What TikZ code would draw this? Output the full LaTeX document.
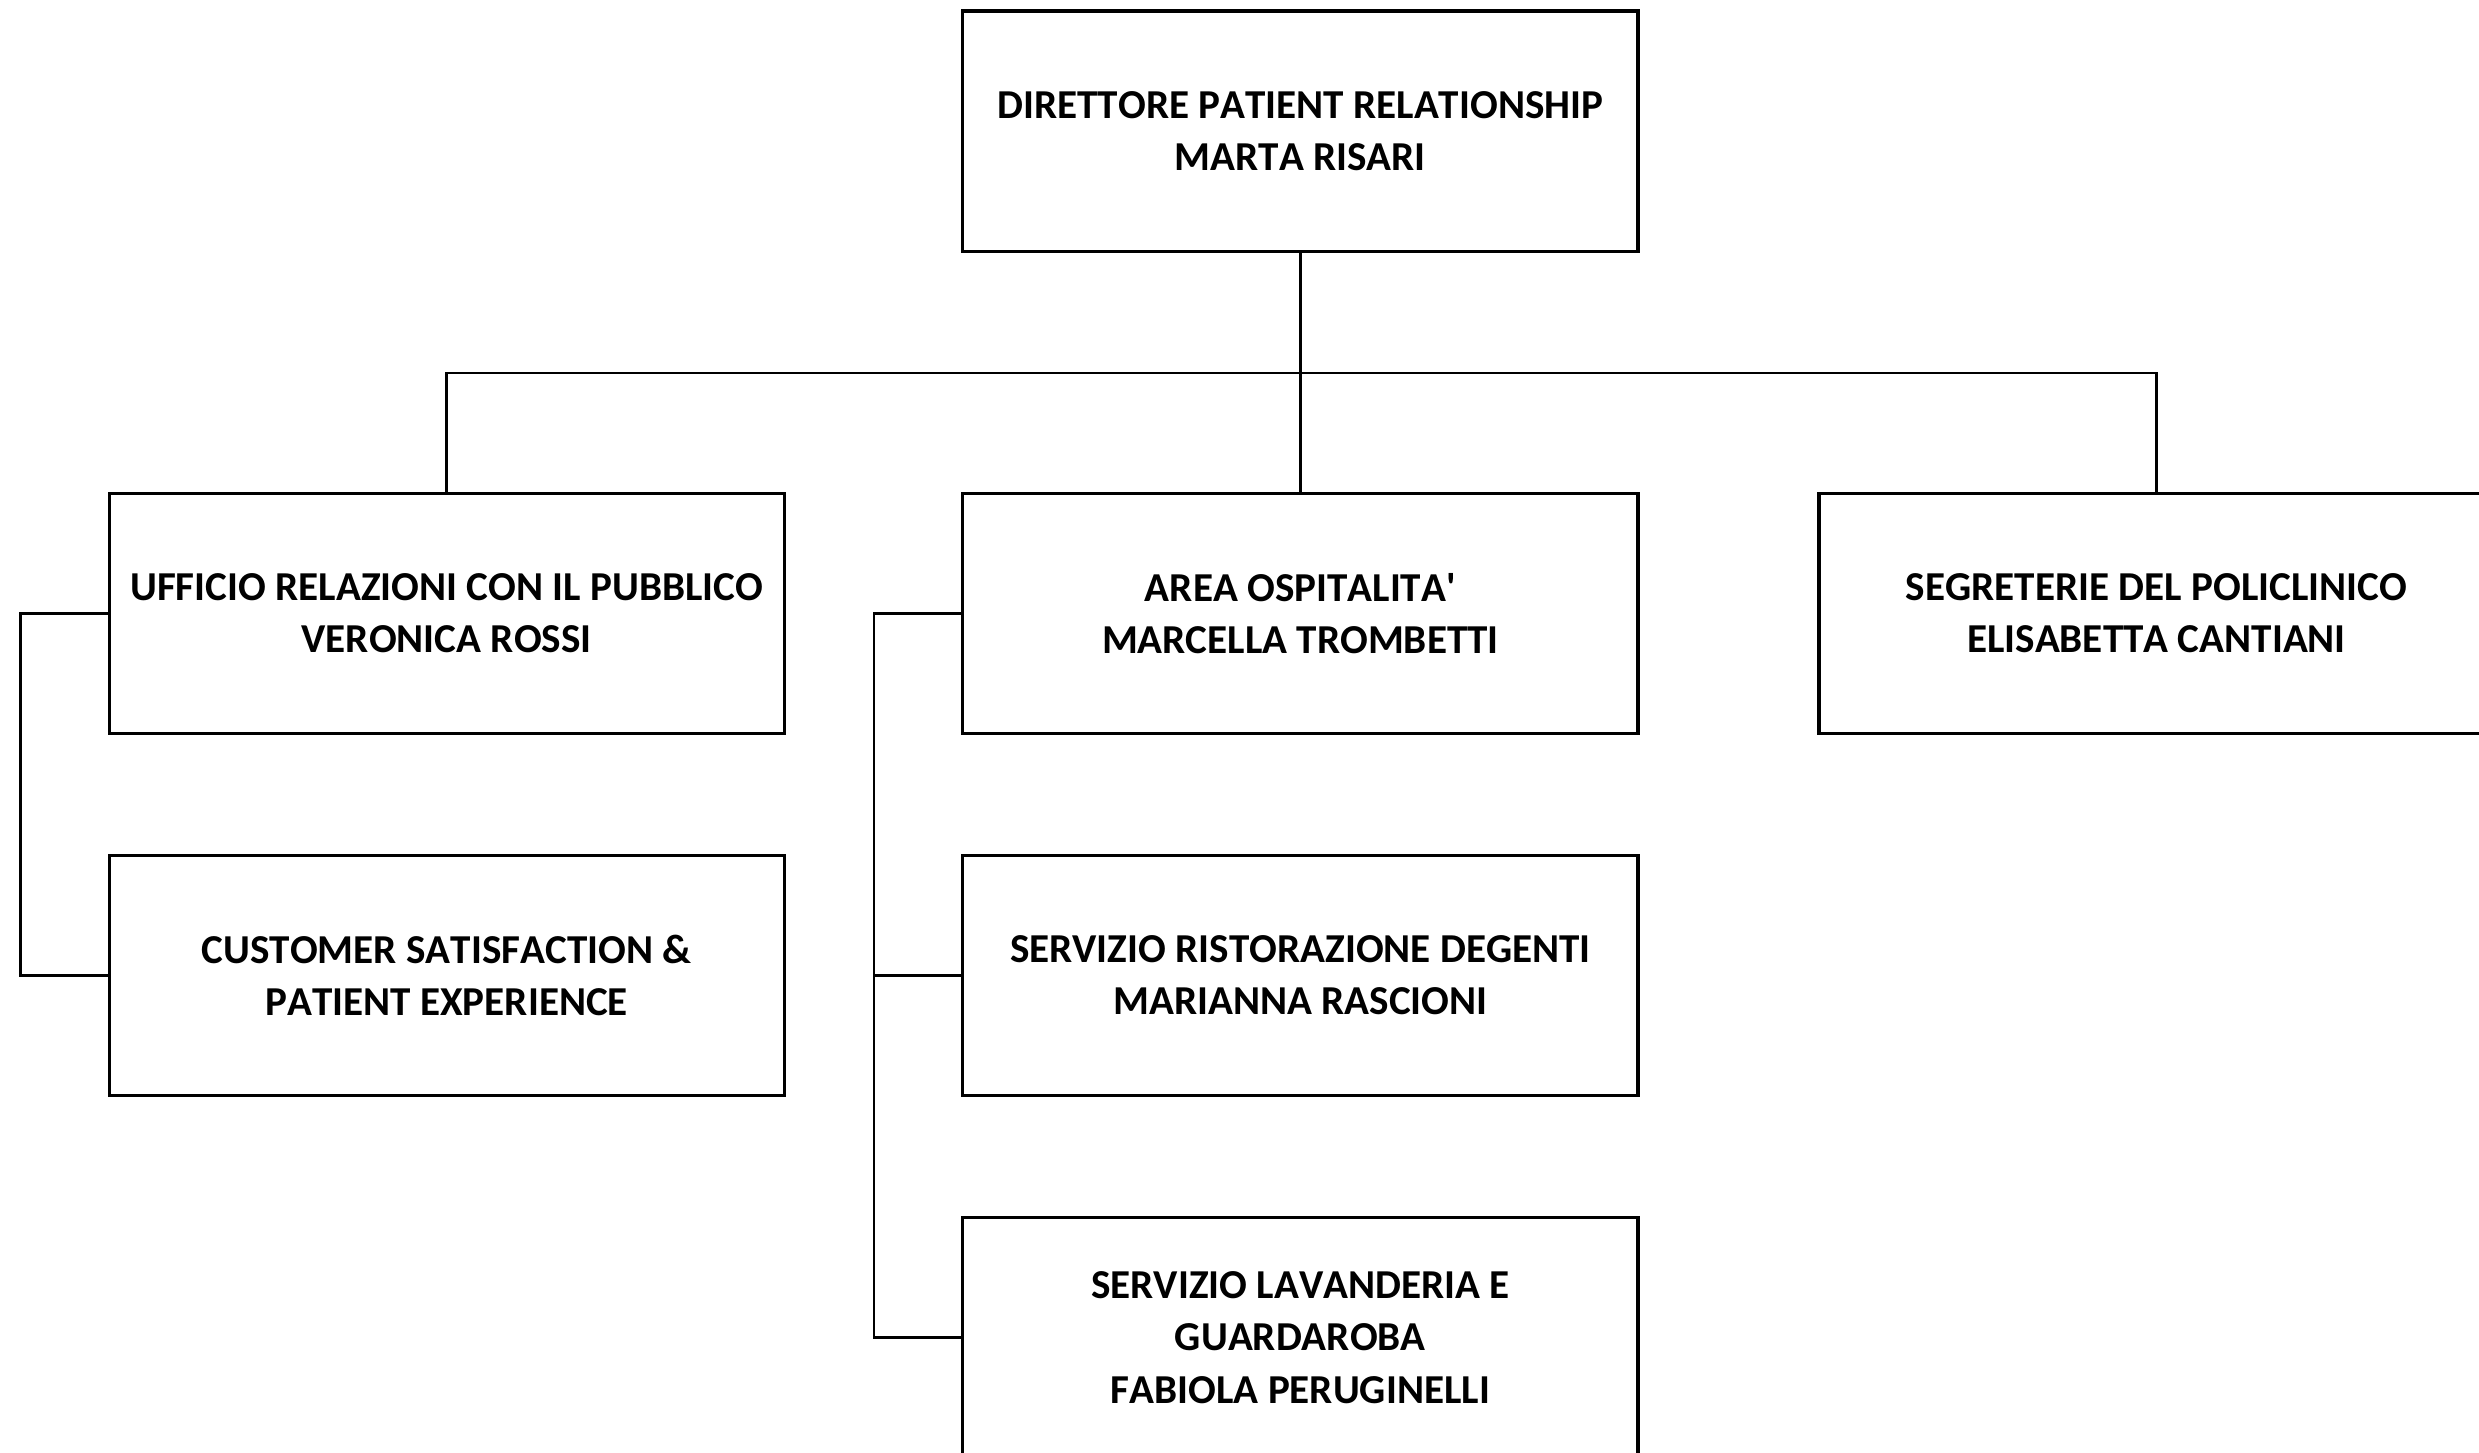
\documentclass[tikz,border=0pt]{standalone}
\usepackage{fontspec}
\setmainfont{Carlito}[Ligatures=TeXOff,Kerning=Off]
\begin{document}
\begin{tikzpicture}[x=1pt,y=-1pt,
  box/.style={draw=black,line width=2pt,minimum width=427pt,minimum height=152pt,
    align=center,inner sep=0pt,font=\bfseries\fontsize{26}{33}\selectfont},
  conn/.style={draw=black,line width=1.5pt}]
\clip (0,0) rectangle (1568,919);
\fill[white] (0,0) rectangle (1568,919);
\node[box] (dir) at (822.5,83) {DIRETTORE PATIENT RELATIONSHIP\\MARTA RISARI};
\node[box] (urp) at (282.5,388) {UFFICIO RELAZIONI CON IL PUBBLICO\\VERONICA ROSSI};
\node[box] (osp) at (822.5,388) {AREA OSPITALITA'\\MARCELLA TROMBETTI};
\node[box] (seg) at (1364,388) {SEGRETERIE DEL POLICLINICO\\ELISABETTA CANTIANI};
\node[box] (cs) at (282.5,617) {CUSTOMER SATISFACTION \&\\PATIENT EXPERIENCE};
\node[box] (srd) at (822.5,617) {SERVIZIO RISTORAZIONE DEGENTI\\MARIANNA RASCIONI};
\node[box] (lav) at (822.5,846) {SERVIZIO LAVANDERIA E\\GUARDAROBA\\FABIOLA PERUGINELLI};
\coordinate (bus) at (822.5,236);
\draw[conn] (dir.south) -- (bus);
\draw[conn] (urp.north) |- (bus) -| (seg.north);
\draw[conn] (bus) -- (osp.north);
\coordinate (lv) at (13,388);
\draw[conn] (urp.west) -- (lv) |- (cs.west);
\coordinate (mv) at (553,388);
\draw[conn] (osp.west) -- (mv) |- (lav.west);
\draw[conn] (mv |- srd.west) -- (srd.west);
\end{tikzpicture}
\end{document}
